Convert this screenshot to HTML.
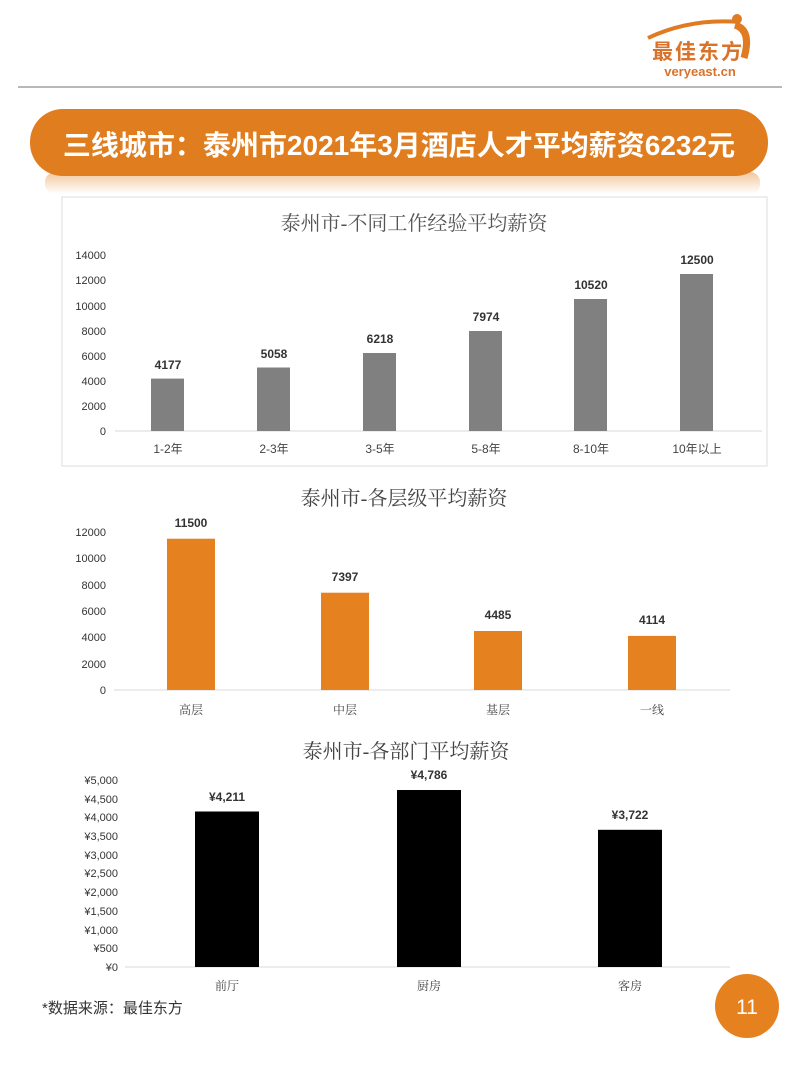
<!DOCTYPE html>
<html><head><meta charset="utf-8"><style>
body{margin:0;background:#fff;}
svg{display:block}
</style></head><body>
<svg width="800" height="1065" xmlns="http://www.w3.org/2000/svg" font-family="'Liberation Sans','Noto Sans CJK SC',sans-serif">
<defs>
<linearGradient id="sh" x1="0" y1="0" x2="0" y2="1"><stop offset="0" stop-color="#f3c79a"/><stop offset="1" stop-color="#fff"/></linearGradient>
</defs>
<rect width="800" height="1065" fill="#fff"/>
<!-- logo -->
<path d="M648 38 Q690 18 740 22" stroke="#e07b22" stroke-width="4" fill="none"/>
<circle cx="737" cy="19" r="5" fill="#e07b22"/>
<path d="M735 25 Q752 30 744 58" stroke="#e07b22" stroke-width="7" fill="none"/>
<text x="698" y="59" font-size="21" font-weight="bold" fill="#d9722a" text-anchor="middle" letter-spacing="2">最佳东方</text>
<text x="700" y="76" font-size="13" font-weight="bold" fill="#d9722a" text-anchor="middle">veryeast.cn</text>
<rect x="18" y="86" width="764" height="2" fill="#b8b8b8"/>
<!-- banner -->
<rect x="45" y="172" width="715" height="22" rx="10" fill="url(#sh)"/>
<rect x="30" y="109" width="738" height="67" rx="33" fill="#e07d1e"/>
<text x="399" y="155" font-size="28" font-weight="bold" fill="#fff" text-anchor="middle">三线城市：泰州市2021年3月酒店人才平均薪资6232元</text>
<!-- chart1 -->
<rect x="62" y="197" width="705" height="269" fill="#fff" stroke="#ddd"/>
<text x="414" y="230" font-size="20" fill="#555" text-anchor="middle" font-family="'Liberation Serif','Noto Serif CJK SC',serif">泰州市-不同工作经验平均薪资</text>
<g font-size="11" fill="#333" text-anchor="end">
<text x="106" y="435">0</text><text x="106" y="410">2000</text><text x="106" y="385">4000</text><text x="106" y="360">6000</text><text x="106" y="335">8000</text><text x="106" y="310">10000</text><text x="106" y="284">12000</text><text x="106" y="259">14000</text>
</g>
<line x1="115" y1="431" x2="762" y2="431" stroke="#d9d9d9"/>
<g fill="#808080">
<rect x="151" y="378.6" width="33" height="52.4"/>
<rect x="257" y="367.5" width="33" height="63.5"/>
<rect x="363" y="353" width="33" height="78"/>
<rect x="469" y="331" width="33" height="100"/>
<rect x="574" y="299" width="33" height="132"/>
<rect x="680" y="274" width="33" height="157"/>
</g>
<g font-size="12" font-weight="bold" fill="#333" text-anchor="middle">
<text x="168" y="369">4177</text><text x="274" y="358">5058</text><text x="380" y="343">6218</text><text x="486" y="321">7974</text><text x="591" y="289">10520</text><text x="697" y="264">12500</text>
</g>
<g font-size="12" fill="#444" text-anchor="middle">
<text x="168" y="453">1-2年</text><text x="274" y="453">2-3年</text><text x="380" y="453">3-5年</text><text x="486" y="453">5-8年</text><text x="591" y="453">8-10年</text><text x="697" y="453">10年以上</text>
</g>
<!-- chart2 -->
<text x="404" y="505" font-size="20" fill="#444" text-anchor="middle" font-family="'Liberation Serif','Noto Serif CJK SC',serif">泰州市-各层级平均薪资</text>
<g font-size="11" fill="#333" text-anchor="end">
<text x="106" y="694">0</text><text x="106" y="668">2000</text><text x="106" y="641">4000</text><text x="106" y="615">6000</text><text x="106" y="589">8000</text><text x="106" y="562">10000</text><text x="106" y="536">12000</text>
</g>
<line x1="114" y1="690" x2="730" y2="690" stroke="#d9d9d9"/>
<g fill="#e5821f">
<rect x="167" y="538.7" width="48" height="151.3"/>
<rect x="321" y="592.7" width="48" height="97.3"/>
<rect x="474" y="631" width="48" height="59"/>
<rect x="628" y="635.9" width="48" height="54.1"/>
</g>
<g font-size="12" font-weight="bold" fill="#333" text-anchor="middle">
<text x="191" y="527">11500</text><text x="345" y="581">7397</text><text x="498" y="619">4485</text><text x="652" y="624">4114</text>
</g>
<g font-size="12" fill="#444" text-anchor="middle" font-family="'Liberation Serif','Noto Serif CJK SC',serif">
<text x="191" y="714">高层</text><text x="345" y="714">中层</text><text x="498" y="714">基层</text><text x="652" y="714">一线</text>
</g>
<!-- chart3 -->
<text x="406" y="758" font-size="20" fill="#444" text-anchor="middle" font-family="'Liberation Serif','Noto Serif CJK SC',serif">泰州市-各部门平均薪资</text>
<g font-size="11" fill="#333" text-anchor="end">
<text x="118" y="971">¥0</text><text x="118" y="952">¥500</text><text x="118" y="934">¥1,000</text><text x="118" y="915">¥1,500</text><text x="118" y="896">¥2,000</text><text x="118" y="877">¥2,500</text><text x="118" y="859">¥3,000</text><text x="118" y="840">¥3,500</text><text x="118" y="821">¥4,000</text><text x="118" y="803">¥4,500</text><text x="118" y="784">¥5,000</text>
</g>
<line x1="125" y1="967" x2="730" y2="967" stroke="#d9d9d9"/>
<g fill="#000">
<rect x="195" y="811.5" width="64" height="155.5"/>
<rect x="397" y="790" width="64" height="177"/>
<rect x="598" y="829.8" width="64" height="137.2"/>
</g>
<g font-size="12" font-weight="bold" fill="#333" text-anchor="middle">
<text x="227" y="801">¥4,211</text><text x="429" y="779">¥4,786</text><text x="630" y="819">¥3,722</text>
</g>
<g font-size="12" fill="#444" text-anchor="middle" font-family="'Liberation Serif','Noto Serif CJK SC',serif">
<text x="227" y="990">前厅</text><text x="429" y="990">厨房</text><text x="630" y="990">客房</text>
</g>
<text x="42" y="1013" font-size="15" fill="#333">*数据来源：最佳东方</text>
<circle cx="747" cy="1006" r="32" fill="#e5821f"/>
<text x="747" y="1014" font-size="21" fill="#fff" text-anchor="middle">11</text>
</svg>
</body></html>
